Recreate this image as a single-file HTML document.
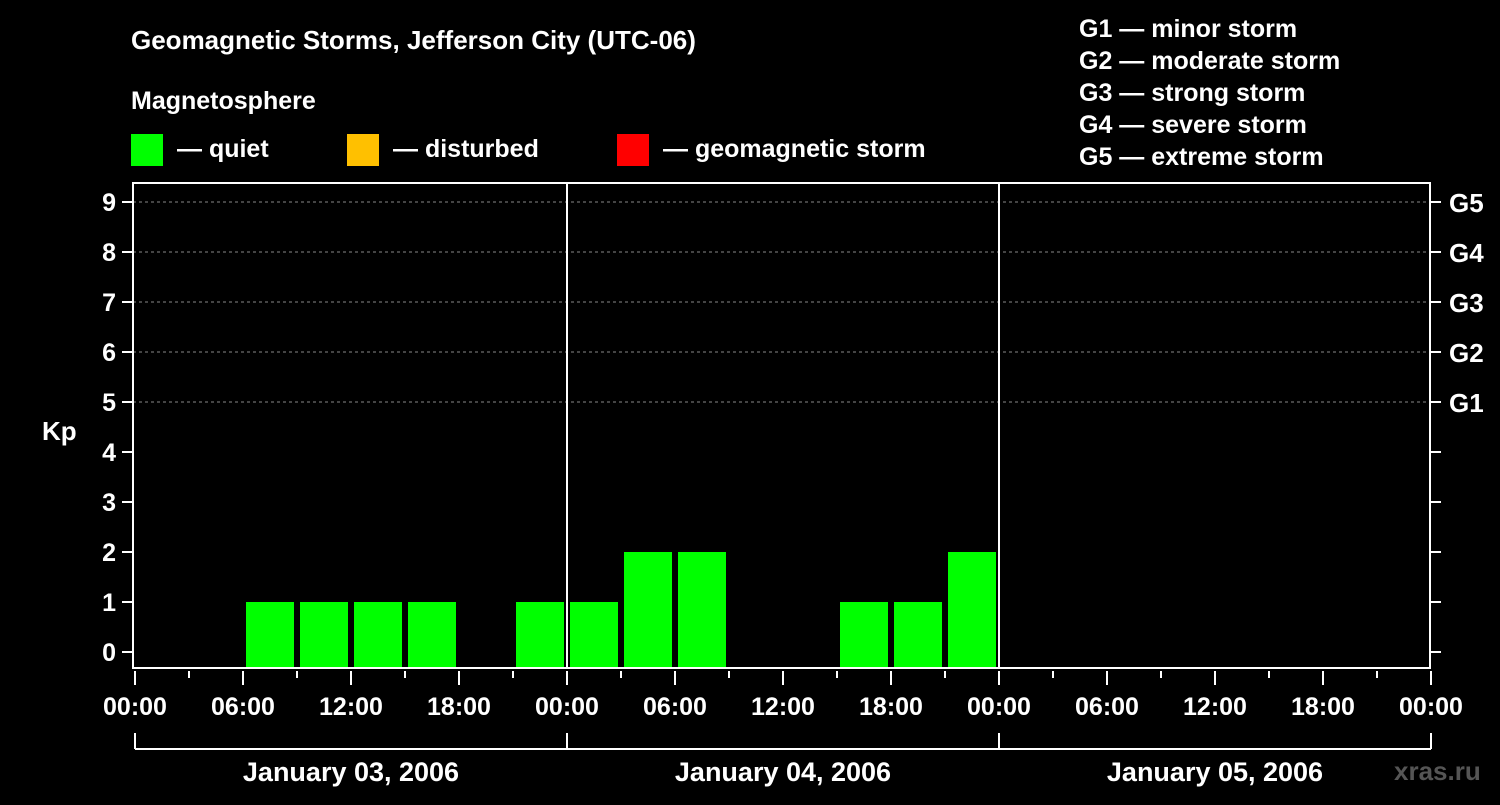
<!DOCTYPE html>
<html><head><meta charset="utf-8"><style>
body{margin:0;background:#000;}
svg text{font-family:"Liberation Sans",Arial,sans-serif;font-weight:bold;fill:#fff;}
</style></head><body>
<svg id="c" width="1500" height="800" viewBox="0 0 1500 800">
<rect width="1500" height="800" fill="#000"/>
<text x="131" y="49" font-size="26">Geomagnetic Storms, Jefferson City (UTC-06)</text>
<text x="131" y="109" font-size="25">Magnetosphere</text>
<g><rect x="131" y="134" width="32" height="32" fill="#00ff00"/><text x="177" y="157" font-size="25">— quiet</text></g>
<g><rect x="347" y="134" width="32" height="32" fill="#ffc000"/><text x="393" y="157" font-size="25">— disturbed</text></g>
<g><rect x="617" y="134" width="32" height="32" fill="#ff0000"/><text x="663" y="157" font-size="25">— geomagnetic storm</text></g>
<g font-size="25">
<text x="1079" y="37">G1 — minor storm</text>
<text x="1079" y="69">G2 — moderate storm</text>
<text x="1079" y="101">G3 — strong storm</text>
<text x="1079" y="133">G4 — severe storm</text>
<text x="1079" y="165">G5 — extreme storm</text>
</g>
<text x="42" y="440" font-size="26">Kp</text>
<text x="1394" y="780" font-size="26" fill="#555" style="fill:#555">xras.ru</text>
<g id="plot"></g>
</svg>
<script>
const kpValues=[null,null,1,1,1,1,null,1, 1,2,2,null,null,1,1,2, null,null,null,null,null,null,null,null];
const dayLabels=["January 03, 2006","January 04, 2006","January 05, 2006"];
const hourLabels=["00:00","06:00","12:00","18:00"];
const gLabels=["G1","G2","G3","G4","G5"];
const NS="http://www.w3.org/2000/svg";
const g=document.getElementById('plot');
const L=133,R=1430,T=183,B=668,X0=135,slotW=54;
const y=v=>652-50*v, x=i=>X0+slotW*i;
function el(t,a,p){const e=document.createElementNS(NS,t);for(const k in a)e.setAttribute(k,a[k]);(p||g).appendChild(e);return e;}
for(let k=0;k<=9;k++){
 if(k>=5){const l=el('line',{x1:L,x2:R,y1:y(k),y2:y(k),stroke:'#888','stroke-dasharray':'3,3','stroke-width':1});
 
 }
 el('line',{x1:122,x2:L,y1:y(k),y2:y(k),stroke:'#fff','stroke-width':2});
 el('line',{x1:R,x2:R+11,y1:y(k),y2:y(k),stroke:'#fff','stroke-width':2});
 const t=el('text',{x:116,y:y(k)+9,'font-size':25,'text-anchor':'end'});t.textContent=k;
 
 
}
gLabels.forEach((s,i)=>{const t=el('text',{x:1449,y:y(5+i)+10,'font-size':26});t.textContent=s;
 
 });
kpValues.forEach((v,i)=>{if(v==null)return;
 const c=v>=5?'#ff0000':(v>=4?'#ffc000':'#00ff00');
 const r=el('rect',{x:x(i)+3,y:y(v),width:48,height:B-y(v),fill:c});
 
 });
el('rect',{x:L,y:T,width:R-L,height:B-T,fill:'none',stroke:'#fff','stroke-width':2});
for(let d=1;d<dayLabels.length;d++){el('line',{x1:x(8*d),x2:x(8*d),y1:T,y2:B,stroke:'#fff','stroke-width':2});}
for(let i=0;i<=24;i++){
 const major=i%2==0;
 el('line',{x1:x(i),x2:x(i),y1:B+3,y2:B+(major?17:10),stroke:'#fff','stroke-width':2});
 if(major){const t=el('text',{x:x(i),y:715,'font-size':25,'text-anchor':'middle'});t.textContent=hourLabels[(i/2)%4];
 
 }
}
el('line',{x1:x(0),x2:x(24),y1:749,y2:749,stroke:'#fff','stroke-width':2});
for(let d=0;d<=dayLabels.length;d++)el('line',{x1:x(8*d),x2:x(8*d),y1:733,y2:749,stroke:'#fff','stroke-width':2});
dayLabels.forEach((s,d)=>{const t=el('text',{x:x(8*d+4),y:781,'font-size':27,'text-anchor':'middle'});t.textContent=s;
 
 });
</script>
</body></html>
